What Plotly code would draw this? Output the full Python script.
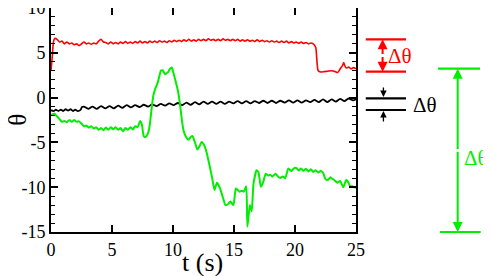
import plotly.graph_objects as go

# ---- data ----
red_t = [0.0, 0.1, 0.2, 0.3, 0.5, 0.7, 0.9, 1.1, 1.3, 1.5, 1.7, 1.9, 2.1, 2.3, 2.5, 2.7, 2.9, 3.1, 3.3, 3.5,
         3.7, 3.9, 4.1, 4.3, 4.5, 4.7, 4.9, 5.1, 5.3, 5.5, 5.7, 5.9, 6.1, 6.3, 6.5, 6.7, 6.9, 7.1, 7.3, 7.5,
         7.7, 7.9, 8.1, 8.3, 8.5, 8.7, 8.9, 9.1, 9.3, 9.5, 9.7, 9.9, 10.1, 10.3, 10.5, 10.7, 10.9, 11.1, 11.3, 11.5,
         11.7, 11.9, 12.1, 12.3, 12.5, 12.7, 12.9, 13.1, 13.3, 13.5, 13.7, 13.9, 14.1, 14.3, 14.5, 14.7, 14.9, 15.1, 15.3, 15.5,
         15.7, 15.9, 16.1, 16.3, 16.5, 16.7, 16.9, 17.1, 17.3, 17.5, 17.7, 17.9, 18.1, 18.3, 18.5, 18.7, 18.9, 19.1, 19.3, 19.5,
         19.7, 19.9, 20.1, 20.3, 20.5, 20.7, 20.9, 21.1, 21.3, 21.5, 21.7, 21.8, 21.9, 22.1, 22.4, 22.7, 23.0, 23.3, 23.5, 23.7,
         23.9, 24.0, 24.1, 24.2, 24.4, 24.6, 24.8, 25.0]
red_v = [3.0, 4.5, 6.2, 6.6, 6.5, 6.2, 6.3, 6.0, 6.2, 6.0, 6.1, 5.9, 6.0, 5.8, 6.0, 6.2, 6.0, 6.1, 5.95, 6.1,
         6.0, 6.3, 6.5, 6.2, 6.15, 6.0, 6.2, 6.0, 6.15, 6.0, 6.2, 6.05, 6.25, 6.05, 6.2, 6.05, 6.25, 6.1, 6.3, 6.1,
         6.25, 6.1, 6.3, 6.15, 6.3, 6.15, 6.35, 6.2, 6.3, 6.15, 6.35, 6.2, 6.4, 6.25, 6.4, 6.25, 6.45, 6.3, 6.5, 6.3,
         6.45, 6.3, 6.5, 6.35, 6.5, 6.35, 6.55, 6.4, 6.5, 6.35, 6.5, 6.35, 6.55, 6.4, 6.5, 6.35, 6.5, 6.35, 6.5, 6.3,
         6.45, 6.3, 6.45, 6.3, 6.4, 6.25, 6.45, 6.25, 6.4, 6.25, 6.35, 6.2, 6.35, 6.2, 6.3, 6.15, 6.3, 6.15, 6.3, 6.1,
         6.25, 6.1, 6.2, 6.05, 6.2, 6.05, 6.15, 6.0, 6.1, 6.0, 5.6, 4.0, 3.0, 2.85, 2.9, 2.95, 3.0, 2.9, 2.8, 3.2,
         3.6, 3.9, 3.5, 3.3, 3.4, 3.2, 3.35, 3.2]

black_t = [0.0, 0.2, 0.4, 0.6, 0.8, 1.0, 1.2, 1.4, 1.6, 1.8, 2.0, 2.2, 2.4, 2.55,
           2.7, 3.05, 3.4, 3.75, 4.1, 4.45, 4.8, 5.15, 5.5, 5.85, 6.2, 6.55, 6.9, 7.25, 7.6, 7.95,
           8.3, 8.65, 9.0, 9.35, 9.7, 10.05, 10.4, 10.75, 11.1, 11.45, 11.8, 12.15, 12.5, 12.85, 13.2, 13.55,
           13.9, 14.25, 14.6, 14.95, 15.3, 15.65, 16.0, 16.35, 16.7, 17.05, 17.4, 17.75, 18.1, 18.45, 18.8, 19.15,
           19.5, 19.85, 20.2, 20.55, 20.9, 21.25, 21.6, 21.95, 22.3, 22.65, 23.0, 23.35, 23.7, 24.05, 24.4, 24.75, 25.0]
black_v = [-1.4, -1.5, -1.35, -1.5, -1.35, -1.5, -1.3, -1.45, -1.3, -1.5, -1.35, -1.5, -1.4, -1.05,
           -1.0, -1.25, -1.0, -1.25, -0.95, -1.2, -0.95, -1.2, -0.9, -1.15, -0.85, -1.1, -0.85, -1.05, -0.8, -1.0,
           -0.75, -0.95, -0.7, -0.9, -0.65, -0.85, -0.6, -0.85, -0.55, -0.8, -0.5, -0.75, -0.45, -0.7, -0.45, -0.7,
           -0.45, -0.7, -0.45, -0.65, -0.4, -0.65, -0.4, -0.65, -0.4, -0.6, -0.35, -0.6, -0.35, -0.6, -0.35, -0.55,
           -0.3, -0.55, -0.3, -0.55, -0.3, -0.5, -0.25, -0.5, -0.2, -0.5, -0.2, -0.45, -0.15, -0.4, -0.1, -0.3, -0.2]

green_t = [0.0, 0.15, 0.3, 0.5, 0.7, 0.9, 1.1, 1.3, 1.5, 1.7, 1.9, 2.1, 2.3, 2.5, 2.7, 2.9, 3.1, 3.3, 3.5, 3.7,
           3.9, 4.1, 4.3, 4.5, 4.7, 4.9, 5.1, 5.3, 5.5, 5.7, 5.9, 6.1, 6.3, 6.5, 6.7, 6.9, 7.1, 7.3, 7.45, 7.6,
           7.75, 7.95, 8.1, 8.25, 8.4, 8.55, 8.75, 8.9, 9.0, 9.15, 9.35, 9.5, 9.6, 9.75, 9.9, 10.05, 10.2, 10.4, 10.55, 10.7,
           10.85, 11.0, 11.25, 11.45, 11.6, 11.8, 12.0, 12.15, 12.35, 12.55, 12.75, 13.0, 13.2, 13.4, 13.6, 13.85, 14.1, 14.3, 14.5, 14.7,
           14.95, 15.15, 15.3, 15.45, 15.65, 15.8, 16.0, 16.1, 16.3, 16.45, 16.6, 16.85, 17.0, 17.2, 17.4, 17.6, 17.8, 17.95, 18.15, 18.4,
           18.6, 18.8, 19.0, 19.2, 19.45, 19.7, 19.9, 20.1, 20.3, 20.5, 20.7, 20.9, 21.1, 21.3, 21.5, 21.7, 21.9, 22.1, 22.3, 22.5,
           22.7, 22.9, 23.1, 23.3, 23.5, 23.7, 23.95, 24.2, 24.35, 24.5, 24.7, 24.85, 25.0]
green_v = [-2.0, -1.85, -1.8, -2.1, -2.4, -2.7, -2.6, -2.75, -2.5, -2.7, -2.5, -2.7, -2.65, -2.9, -3.2, -3.1, -3.35, -3.2, -3.45, -3.3,
           -3.6, -3.4, -3.65, -3.35, -3.6, -3.3, -3.55, -3.3, -3.6, -3.4, -3.75, -3.4, -3.6, -3.3, -3.55, -3.2, -3.3, -2.6, -3.0, -4.3,
           -4.4, -4.0, -3.0, -1.2, 0.3, 1.0, 1.7, 2.5, 3.0, 3.05, 2.6, 2.75, 2.85, 3.2, 3.35, 2.7, 1.9, 0.8, -0.5, -2.2,
           -3.6, -4.2, -4.7, -4.4, -4.3, -5.0, -5.8, -5.5, -4.95, -5.3, -6.1, -7.6, -8.9, -10.3, -9.5, -10.1, -11.2, -12.0, -11.9, -11.6,
           -12.0, -10.15, -10.3, -10.5, -10.4, -10.5, -9.9, -14.4, -12.0, -12.7, -9.6, -8.1, -8.3, -9.96, -9.4, -8.5, -8.7, -8.6, -8.8, -8.5,
           -8.8, -8.96, -8.8, -9.0, -7.9, -8.2, -7.9, -7.85, -8.15, -7.9, -8.2, -7.95, -8.25, -8.0, -8.3, -8.1, -8.35, -8.2, -8.4, -9.1,
           -9.2, -8.9, -9.1, -9.3, -9.5, -9.3, -10.0, -9.2, -9.4, -9.85, -9.9, -10.0, -10.1]

x_ticks = [0, 5, 10, 15, 20, 25]
y_ticks = [-15, -10, -5, 0, 5, 10]
x_title = "t (s)"
y_title = "\u03b8"
label = "\u0394\u03b8"

RED = "#ff0000"
GREEN = "#00ee00"
BLACK = "#000000"
FONT = "Liberation Serif"

fig = go.Figure()
fig.add_trace(go.Scatter(x=red_t, y=red_v, mode="lines",
                         line=dict(color=RED, width=1.6, shape="spline", smoothing=0.6), showlegend=False))
fig.add_trace(go.Scatter(x=black_t, y=black_v, mode="lines",
                         line=dict(color=BLACK, width=1.8, shape="spline", smoothing=0.6), showlegend=False))
fig.add_trace(go.Scatter(x=green_t, y=green_v, mode="lines",
                         line=dict(color=GREEN, width=2, shape="spline", smoothing=0.5), showlegend=False))

# annotation graphics (paper coordinates)
def hline(x0, x1, y, color):
    fig.add_shape(type="line", xref="paper", yref="paper", x0=x0, x1=x1, y0=y, y1=y,
                  line=dict(color=color, width=2.2))

def arrow(x, y, ay, color, w=2, size=1.0):
    fig.add_annotation(xref="paper", yref="paper", x=x, y=y, ax=0, ay=ay, text="",
                       showarrow=True, arrowhead=2, arrowsize=size, arrowwidth=w,
                       arrowcolor=color, standoff=0, startstandoff=0)

# red
hline(1.032, 1.164, 0.8603, RED)
hline(1.032, 1.164, 0.7156, RED)
arrow(1.0872, 0.8603, 16.2, RED)
arrow(1.0872, 0.7156, -16.2, RED)
fig.add_annotation(xref="paper", yref="paper", x=1.098, y=0.7835, text=label, showarrow=False,
                   xanchor="left", yanchor="middle", font=dict(family=FONT, size=21, color=RED))
# black
hline(1.032, 1.164, 0.5969, BLACK)
hline(1.032, 1.164, 0.5446, BLACK)
arrow(1.0899, 0.6027, -11, BLACK, w=1.3)
arrow(1.0899, 0.5402, 12, BLACK, w=1.3)
fig.add_annotation(xref="paper", yref="paper", x=1.18, y=0.567, text=label, showarrow=False,
                   xanchor="left", yanchor="middle", font=dict(family=FONT, size=21, color=BLACK))
# green
hline(1.2689, 1.4066, 0.729, GREEN)
hline(1.2754, 1.4089, 0.0, GREEN)
arrow(1.3334, 0.729, 81.8, GREEN)
arrow(1.3334, 0.0, -81.8, GREEN)
fig.add_annotation(xref="paper", yref="paper", x=1.4393, y=0.330, text=label, showarrow=False,
                   xanchor="right", yanchor="middle", font=dict(family=FONT, size=21, color=GREEN))

# axis titles
fig.add_annotation(xref="paper", yref="paper", x=0.498, y=-0.134, text=x_title, showarrow=False,
                   xanchor="center", yanchor="middle", font=dict(family=FONT, size=26, color=BLACK))
fig.add_annotation(xref="paper", yref="paper", x=-0.112, y=0.5, text=y_title, showarrow=False,
                   textangle=-90, xanchor="center", yanchor="middle",
                   font=dict(family=FONT, size=25, color=BLACK))

axis_common = dict(showgrid=False, zeroline=False, showline=True, linecolor=BLACK, linewidth=2,
                   ticks="inside", mirror="ticks", tickcolor=BLACK, tickwidth=1.5, ticklen=7,
                   automargin=False, ticklabeloverflow="allow",
                   tickfont=dict(family=FONT, size=18, color=BLACK))

fig.update_xaxes(range=[0, 25], tickvals=x_ticks, ticktext=[str(v) for v in x_ticks], **axis_common)
fig.update_yaxes(range=[-15, 10], tickvals=y_ticks, ticktext=[str(v) for v in y_ticks],
                 minor=dict(dtick=1, ticks="inside", ticklen=4, tickwidth=1.2, tickcolor=BLACK),
                 **axis_common)

# the page adds an 8px body margin, so the figure is sized to the visible area
fig.update_layout(width=483, height=268, margin=dict(l=43, r=135, t=0, b=44),
                  plot_bgcolor="white", paper_bgcolor="white")

fig.write_html("out.html")
